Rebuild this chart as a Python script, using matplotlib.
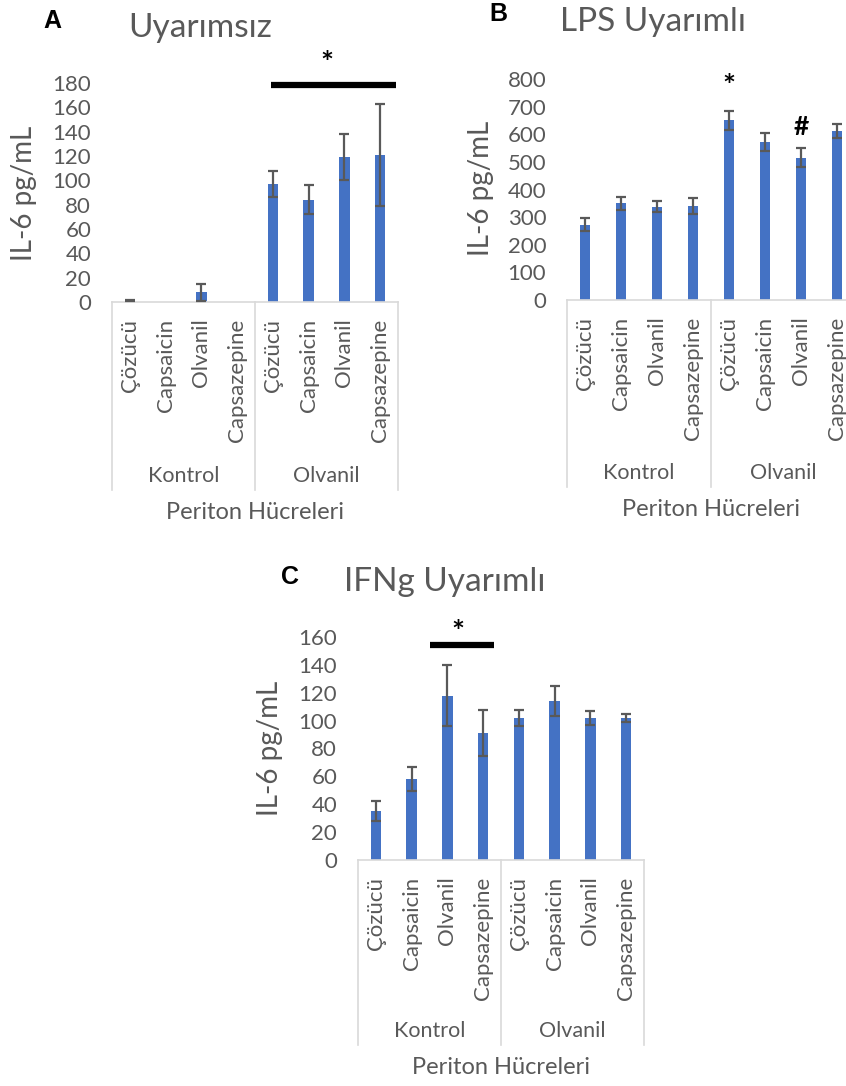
import matplotlib.pyplot as plt
import matplotlib.transforms as mtransforms
import numpy as np

plt.rcParams['font.family'] = ['Lato', 'DejaVu Sans']

treatments = ['Çözücü', 'Capsaicin', 'Olvanil', 'Capsazepine']
groups = ['Kontrol', 'Olvanil']

a_mean = [1, 0, 8, 0, 97, 84, 119, 121]
a_err = [0.5, 0, 7, 0, 11, 12, 19, 42]
b_mean = [272, 350, 338, 340, 650, 572, 515, 612]
b_err = [24, 24, 19, 30, 35, 34, 35, 24]
c_mean = [35, 58, 118, 91, 102, 114, 102, 102]
c_err = [7, 8.5, 22, 16.5, 5.5, 10.5, 5, 3]

W, H = 846, 1086
BLUE = '#4472C4'
GREY = '#595959'
LINE = '#d9d9d9'

fig = plt.figure(figsize=(W / 100, H / 100), dpi=100)


def panel(left, right, top, bottom, box_bottom, means, errs, ymax, step):
    ax = fig.add_axes([left / W, 1 - bottom / H, (right - left) / W, (bottom - top) / H])
    x = np.arange(len(means))
    means = np.array(means, dtype=float)
    errs = np.array(errs, dtype=float)
    ax.bar(x, means, width=0.3, color=BLUE, zorder=2)
    m = errs > 0
    ax.errorbar(x[m], means[m], yerr=errs[m], fmt='none', ecolor=GREY,
                elinewidth=1.6, capsize=3.6, capthick=1.6, zorder=3)
    ax.set_xlim(-0.5, 7.5)
    ax.set_ylim(0, ymax)
    ax.set_yticks(range(0, ymax + 1, step))
    ax.set_xticks(x)
    ax.set_xticklabels(treatments * 2, rotation=90, va='top', ha='center',
                       fontsize=16, color=GREY)
    ax.tick_params(axis='y', length=0, pad=15, labelsize=16, labelcolor=GREY)
    ax.tick_params(axis='x', length=0, pad=12)
    for s in ['top', 'right', 'left']:
        ax.spines[s].set_visible(False)
    ax.spines['bottom'].set_color(LINE)
    ax.spines['bottom'].set_linewidth(1.2)

    # category box below the axis
    trans = mtransforms.blended_transform_factory(ax.transData, ax.transAxes)
    depth = -(box_bottom - bottom) / (bottom - top)
    for xv in [-0.5, 3.5, 7.5]:
        ax.plot([xv, xv], [0, depth], color=LINE, lw=1.2, transform=trans, clip_on=False)
    gy = -(box_bottom - 14 - bottom) / (bottom - top)
    for i, g in enumerate(groups):
        ax.text(1.5 + 4 * i, gy, g, transform=trans, ha='center', va='center',
                fontsize=15.5, color=GREY)
    py = -(box_bottom + 22 - bottom) / (bottom - top)
    ax.text(3.5, py, 'Periton Hücreleri', transform=trans, ha='center', va='center',
            fontsize=17, color=GREY)
    return ax


def ftext(xp, yp, s, **kw):
    fig.text(xp / W, 1 - yp / H, s, ha='center', va='center', **kw)


# Panel A
axA = panel(112, 398, 83, 302, 490, a_mean, a_err, 180, 20)
axA.plot([3.95, 7.45], [178, 178], color='black', lw=4.5, clip_on=False, solid_capstyle='butt')
axA.text(5.5, 196, '*', ha='center', va='center', fontsize=22, fontweight='bold', clip_on=False)
ftext(200, 28, 'Uyarımsız', fontsize=24, color=GREY)
ftext(52, 21, 'A', fontsize=18, fontweight='bold', family='Liberation Sans')
ftext(24, 193, 'IL-6 pg/mL', fontsize=20, color=GREY, rotation=90)

# Panel B
axB = panel(567, 855, 79, 300, 487, b_mean, b_err, 800, 100)
axB.text(4, 770, '*', ha='center', va='center', fontsize=22, fontweight='bold', clip_on=False)
axB.text(6, 627, '#', ha='center', va='center', fontsize=19, fontweight='bold', clip_on=False)
ftext(653, 22, 'LPS Uyarımlı', fontsize=24, color=GREY)
ftext(498, 14, 'B', fontsize=18, fontweight='bold', family='Liberation Sans')
ftext(481, 188, 'IL-6 pg/mL', fontsize=20, color=GREY, rotation=90)

# Panel C
axC = panel(358, 644, 637, 860, 1045, c_mean, c_err, 160, 20)
axC.plot([1.5, 3.3], [154, 154], color='black', lw=4.5, clip_on=False, solid_capstyle='butt')
axC.text(2.3, 163, '*', ha='center', va='center', fontsize=22, fontweight='bold', clip_on=False)
ftext(445, 582, 'IFNg Uyarımlı', fontsize=24, color=GREY)
ftext(290, 577, 'C', fontsize=18, fontweight='bold', family='Liberation Sans')
ftext(270, 748, 'IL-6 pg/mL', fontsize=20, color=GREY, rotation=90)

fig.savefig('out.png', dpi=100)
